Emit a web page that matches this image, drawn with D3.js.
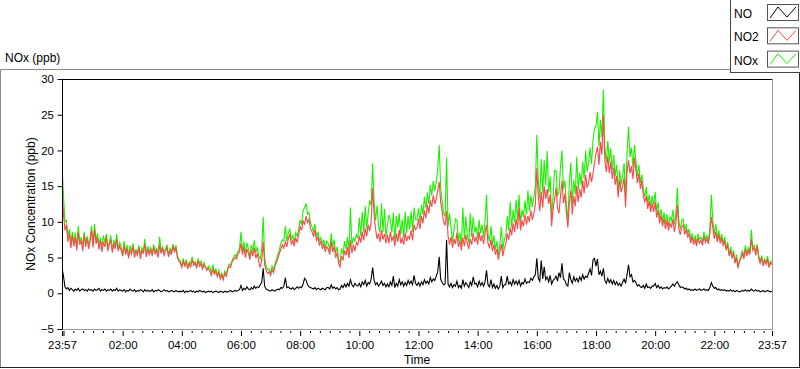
<!DOCTYPE html>
<html>
<head>
<meta charset="utf-8">
<script src="https://cdn.jsdelivr.net/npm/d3@7"></script>
<style>
  body { margin: 0; background: #fff; }
  svg { display: block; }
  text { font-family: "Liberation Sans", Arial, sans-serif; fill: #000; }
</style>
</head>
<body>
<svg width="800" height="369"></svg>
<script>
// readings every 3 minutes, starting 23:57 and ending 23:57 next day
const startTime = new Date(2020, 0, 1, 23, 57)
const endTime = new Date(2020, 0, 2, 23, 57)
const stepMinutes = 3

// one row per hour (20 readings)
const no2 = [
  14.5, 11.2, 8.8, 9.6, 7.2, 8.4, 6.3, 8.1, 6.6, 7.9, 6.0, 8.6, 6.8, 7.4, 5.9, 8.2, 6.5, 7.7, 6.2, 7.3,
  8.8, 6.4, 9.0, 6.9, 7.8, 6.1, 7.4, 5.8, 7.2, 6.5, 7.9, 5.9, 6.8, 7.5, 5.7, 7.0, 6.2, 7.6, 5.9, 6.6,
  6.0, 5.2, 6.8, 5.4, 6.3, 4.9, 6.1, 5.5, 6.6, 5.0, 5.9, 5.3, 6.4, 4.8, 6.0, 5.6, 6.9, 5.1, 6.2, 5.4,
  6.1, 5.2, 6.5, 5.5, 6.0, 5.0, 6.8, 5.6, 6.2, 5.3, 5.9, 6.4, 5.1, 6.0, 5.4, 6.6, 5.8, 6.3, 5.0, 4.5,
  4.2, 3.6, 4.5, 3.8, 4.4, 3.4, 4.1, 3.7, 4.7, 3.9, 4.3, 3.5, 4.6, 3.8, 4.2, 3.4, 4.0, 3.6, 3.2, 3.5,
  3.0, 2.5, 3.4, 2.7, 3.1, 2.3, 2.9, 2.0, 2.6, 1.9, 2.8, 2.4, 3.3, 3.8, 3.6, 4.4, 4.7, 5.0, 4.8, 5.5,
  5.8, 7.0, 5.4, 6.5, 5.0, 6.2, 5.6, 4.7, 6.0, 5.2, 6.4, 4.9, 5.6, 4.4, 3.6, 4.6, 7.2, 4.0, 3.2, 2.8,
  3.0, 2.5, 3.3, 2.9, 3.8, 4.3, 4.9, 5.6, 6.2, 6.8, 6.3, 7.2, 6.5, 7.6, 8.3, 6.9, 7.4, 6.6, 7.8, 7.1,
  8.2, 9.4, 8.8, 10.2, 9.6, 10.8, 9.9, 10.4, 9.0, 8.6, 8.0, 8.9, 7.4, 7.9, 6.8, 7.3, 6.2, 6.9, 5.8, 6.5,
  6.2, 5.4, 7.3, 5.8, 6.6, 5.0, 5.7, 4.2, 3.7, 5.2, 4.6, 6.0, 5.3, 6.5, 4.9, 7.4, 5.6, 6.8, 5.9, 7.1,
  6.8, 8.0, 7.1, 8.6, 7.4, 9.1, 8.0, 9.6, 8.7, 10.0, 14.7, 11.0, 9.0, 7.6, 8.4, 7.2, 8.8, 7.5, 8.3, 7.0,
  8.2, 7.0, 8.6, 7.4, 7.9, 6.6, 8.4, 7.2, 8.9, 7.0, 7.7, 6.8, 8.5, 7.3, 8.0, 7.6, 8.8, 7.4, 9.6, 8.9,
  9.2, 10.4, 9.0, 10.8, 9.8, 11.6, 10.5, 12.4, 11.2, 13.0, 12.1, 13.7, 12.5, 13.2, 14.4, 15.6, 12.8, 11.4, 10.0, 9.5,
  11.5, 8.0, 6.8, 7.9, 6.4, 7.6, 6.9, 8.5, 6.5, 7.4, 6.0, 7.8, 6.6, 8.2, 7.0, 6.2, 7.6, 6.8, 8.4, 7.2,
  7.9, 6.8, 8.6, 7.3, 8.1, 6.9, 8.4, 9.6, 7.0, 6.4, 7.5, 5.9, 6.8, 5.4, 6.2, 4.7, 5.8, 6.9, 5.2, 6.3,
  6.8, 8.4, 7.5, 9.2, 8.1, 9.8, 8.6, 10.4, 9.0, 12.0, 8.8, 10.2, 9.4, 11.0, 9.6, 10.8, 10.0, 11.6, 10.3, 11.2,
  12.4, 17.5, 13.6, 11.5, 14.2, 12.0, 15.0, 13.2, 14.6, 12.5, 13.8, 9.4, 11.8, 13.2, 14.8, 12.0, 11.2, 13.6, 15.8, 12.6,
  14.0, 11.2, 9.2, 12.6, 14.4, 11.0, 13.6, 12.2, 15.0, 12.8, 14.6, 13.4, 15.8, 14.0, 16.6, 14.8, 15.4, 17.0, 15.6, 16.8,
  18.2, 19.6, 20.5, 18.0, 21.2, 19.4, 25.0, 18.6, 17.0, 19.2, 16.8, 18.4, 16.0, 17.6, 15.2, 16.4, 13.4, 15.8, 14.2, 15.0,
  16.2, 12.0, 17.0, 18.6, 16.8, 17.8, 16.0, 19.0, 17.2, 15.4, 16.8, 14.6, 15.8, 13.6, 12.8, 13.6, 11.8, 12.9, 11.4, 12.6,
  11.4, 12.8, 10.6, 11.6, 9.8, 10.9, 9.4, 10.5, 9.0, 10.2, 8.8, 9.9, 9.2, 10.4, 8.6, 9.7, 12.4, 9.0, 8.2, 9.3,
  9.6, 8.2, 9.0, 7.8, 8.4, 7.0, 7.9, 6.8, 7.5, 6.6, 7.8, 7.0, 7.4, 6.7, 8.0, 7.1, 7.6, 6.9, 8.4, 10.7,
  9.2, 7.6, 8.6, 7.2, 8.2, 7.0, 7.8, 6.6, 7.4, 6.0, 6.8, 5.2, 6.0, 4.9, 5.6, 4.2, 5.0, 3.5, 4.4, 4.9,
  5.6, 4.8, 6.2, 5.2, 6.0, 5.4, 7.6, 6.0, 6.4, 5.3, 6.6, 4.9, 4.2, 5.0, 3.8, 4.6, 4.0, 4.8, 3.6, 4.3,
  4.0
]

const no = [
  3.6, 2.4, 0.9, 0.6, 0.8, 0.4, 0.7, 0.5, 0.3, 0.6, 0.4, 0.7, 0.3, 0.5, 0.6, 0.4, 0.5, 0.3, 0.6, 0.4,
  0.5, 0.3, 0.6, 0.4, 0.5, 0.7, 0.3, 0.5, 0.4, 0.6, 0.3, 0.5, 0.4, 0.6, 0.3, 0.5, 0.4, 0.7, 0.3, 0.5,
  0.4, 0.3, 0.5, 0.2, 0.4, 0.3, 0.6, 0.4, 0.3, 0.5, 0.2, 0.4, 0.3, 0.5, 0.4, 0.2, 0.5, 0.3, 0.4, 0.3,
  0.3, 0.5, 0.2, 0.4, 0.3, 0.5, 0.4, 0.2, 0.3, 0.5, 0.3, 0.4, 0.2, 0.3, 0.4, 0.3, 0.2, 0.4, 0.3, 0.2,
  0.3, 0.2, 0.4, 0.1, 0.3, 0.2, 0.3, 0.4, 0.2, 0.3, 0.1, 0.3, 0.2, 0.4, 0.3, 0.2, 0.3, 0.1, 0.2, 0.3,
  0.2, 0.3, 0.1, 0.2, 0.3, 0.2, 0.1, 0.3, 0.2, 0.1, 0.3, 0.2, 0.2, 0.3, 0.4, 0.2, 0.3, 0.4, 0.3, 0.4,
  0.5, 1.1, 0.4, 0.7, 0.5, 0.9, 0.6, 0.5, 0.8, 0.6, 1.0, 0.7, 0.9, 0.8, 1.2, 1.5, 3.5, 1.0, 0.6, 0.5,
  0.4, 0.3, 0.5, 0.4, 0.3, 0.5, 0.6, 0.5, 0.8, 0.7, 1.0, 2.2, 0.8, 0.9, 0.7, 0.6, 0.8, 0.5, 0.7, 0.9,
  0.7, 0.9, 0.8, 1.3, 2.1, 1.8, 1.2, 0.9, 0.8, 0.7, 0.6, 0.8, 0.5, 0.7, 0.6, 0.5, 0.7, 0.6, 0.5, 0.8,
  0.8, 0.6, 1.2, 0.7, 0.9, 0.6, 0.8, 0.5, 0.6, 1.1, 0.8, 1.3, 0.9, 1.4, 1.0, 1.9, 1.2, 0.9, 1.4, 1.1,
  1.0, 1.4, 0.9, 1.6, 1.2, 1.8, 1.0, 1.5, 1.3, 2.0, 3.6, 1.8, 1.2, 1.5, 1.0, 1.3, 1.7, 1.1, 1.4, 0.9,
  1.3, 0.9, 1.6, 1.1, 2.4, 0.8, 1.4, 1.0, 1.9, 1.2, 1.6, 1.0, 1.5, 1.1, 1.8, 1.3, 1.7, 1.2, 2.5, 1.4,
  1.1, 1.5, 1.0, 1.6, 1.2, 1.9, 1.4, 1.7, 1.3, 2.2, 1.6, 2.0, 1.8, 2.4, 3.0, 5.1, 2.0, 1.5, 1.2, 1.3,
  7.5, 1.3, 0.9, 1.4, 0.8, 1.2, 1.0, 1.7, 0.8, 1.1, 0.7, 1.9, 1.0, 1.5, 1.2, 0.8, 1.6, 1.1, 2.3, 1.3,
  1.4, 0.9, 1.7, 1.1, 1.5, 1.0, 1.6, 3.2, 1.2, 0.9, 1.9, 0.8, 1.3, 0.7, 1.1, 0.6, 1.0, 2.4, 0.8, 1.2,
  1.2, 2.4, 1.3, 1.6, 1.1, 1.9, 1.3, 1.7, 1.2, 1.8, 1.0, 1.5, 1.3, 2.0, 1.4, 1.6, 1.5, 2.1, 1.8, 2.3,
  2.6, 4.9, 2.1, 1.7, 4.6, 2.0, 3.7, 1.9, 2.3, 1.6, 2.5, 1.3, 1.8, 2.0, 2.4, 1.7, 2.9, 2.2, 4.2, 2.0,
  1.8, 1.2, 1.0, 2.9, 1.9, 1.4, 2.3, 1.7, 2.1, 1.6, 2.3, 1.8, 2.6, 2.0, 2.4, 2.2, 2.8, 3.4, 2.5, 4.7,
  4.9, 3.8, 4.8, 2.6, 3.1, 2.4, 3.5, 1.8, 1.4, 2.1, 1.5, 1.9, 1.3, 1.8, 1.2, 1.6, 1.1, 1.4, 1.0, 1.5,
  2.0, 1.4, 2.6, 4.0, 2.3, 2.6, 1.6, 1.8, 1.5, 1.0, 1.2, 0.9, 0.8, 1.1, 0.7, 1.3, 0.8, 0.9, 0.7, 1.0,
  1.0, 1.4, 0.8, 1.1, 0.7, 0.9, 0.6, 0.8, 0.7, 0.9, 0.6, 0.8, 1.0, 1.3, 1.0, 1.4, 1.6, 1.2, 0.8, 0.9,
  0.8, 0.6, 0.7, 0.5, 0.6, 0.4, 0.5, 0.4, 0.6, 0.4, 0.5, 0.6, 0.4, 0.5, 0.6, 0.4, 0.5, 0.4, 0.8, 1.5,
  1.0, 0.7, 0.8, 0.5, 0.6, 0.4, 0.5, 0.4, 0.5, 0.3, 0.4, 0.3, 0.5, 0.3, 0.4, 0.2, 0.4, 0.3, 0.2, 0.3,
  0.4, 0.3, 0.5, 0.3, 0.4, 0.3, 0.6, 0.4, 0.3, 0.5, 0.3, 0.4, 0.2, 0.3, 0.4, 0.2, 0.3, 0.4, 0.3, 0.2,
  0.3
]

const nox = [
  18.0, 13.6, 10.0, 10.2, 8.0, 9.0, 7.0, 8.6, 6.9, 8.5, 6.4, 9.4, 7.1, 7.9, 6.5, 8.6, 7.0, 8.0, 6.8, 7.7,
  9.4, 6.8, 9.7, 7.4, 8.4, 6.8, 7.8, 6.3, 8.1, 7.1, 8.3, 6.4, 7.2, 8.1, 6.0, 7.5, 6.6, 8.3, 6.2, 7.1,
  6.5, 5.5, 7.3, 5.6, 6.8, 5.2, 6.7, 5.8, 7.0, 5.5, 6.1, 5.7, 6.7, 5.3, 6.4, 5.8, 7.6, 5.4, 6.6, 5.7,
  6.4, 5.7, 6.8, 5.9, 6.3, 5.5, 7.9, 5.8, 6.5, 5.8, 6.2, 6.8, 5.3, 6.3, 5.8, 6.9, 6.0, 6.7, 5.3, 4.7,
  4.5, 3.8, 4.9, 3.9, 4.7, 3.6, 4.4, 4.1, 5.1, 4.2, 4.4, 3.8, 4.8, 4.2, 4.5, 3.6, 4.3, 3.7, 3.4, 3.8,
  3.6, 2.8, 4.0, 2.9, 3.4, 2.5, 3.2, 2.3, 2.8, 2.0, 3.1, 2.6, 3.5, 4.1, 4.0, 4.6, 5.0, 5.4, 5.1, 5.9,
  6.3, 8.6, 5.8, 7.2, 5.5, 7.1, 6.2, 5.2, 6.8, 5.8, 7.4, 5.6, 6.5, 5.2, 4.8, 6.1, 10.7, 5.0, 3.8, 3.3,
  3.4, 2.8, 3.8, 3.3, 4.1, 4.8, 5.5, 6.1, 7.0, 7.5, 7.3, 9.4, 7.3, 8.5, 9.0, 7.5, 8.2, 7.1, 8.5, 8.0,
  8.9, 10.3, 9.6, 11.5, 12.0, 12.6, 11.1, 11.3, 9.8, 9.3, 8.6, 9.7, 7.9, 8.6, 7.4, 7.8, 6.9, 7.5, 6.3, 7.3,
  7.0, 6.0, 8.4, 6.5, 7.5, 5.6, 6.5, 4.7, 4.3, 6.3, 5.4, 7.3, 6.2, 7.9, 5.9, 12.0, 6.8, 7.7, 7.3, 8.2,
  7.8, 10.6, 8.0, 11.4, 8.6, 12.2, 9.0, 11.1, 13.0, 12.3, 18.2, 12.8, 10.2, 12.3, 9.4, 8.5, 12.6, 8.6, 11.8, 7.9,
  9.5, 11.0, 10.2, 8.5, 11.3, 7.4, 10.8, 9.2, 11.2, 8.2, 10.3, 7.8, 11.4, 8.4, 10.8, 8.9, 11.5, 8.6, 12.0, 10.3,
  10.3, 11.9, 10.0, 12.4, 11.0, 13.5, 11.9, 14.1, 12.5, 15.2, 13.7, 15.7, 14.3, 15.6, 17.4, 20.8, 14.8, 12.9, 11.2, 10.8,
  19.0, 9.3, 11.2, 9.3, 7.2, 8.8, 10.4, 10.2, 7.3, 8.5, 6.7, 12.0, 7.6, 10.7, 8.2, 7.0, 11.2, 7.9, 10.7, 8.5,
  9.3, 7.7, 10.3, 8.4, 9.6, 7.9, 10.0, 13.8, 8.2, 7.3, 9.4, 6.7, 8.1, 6.1, 7.3, 5.3, 6.8, 9.3, 6.0, 7.5,
  8.0, 10.8, 8.8, 12.8, 9.2, 11.7, 9.9, 13.1, 10.2, 13.8, 9.8, 11.7, 10.7, 13.0, 11.0, 14.4, 11.5, 13.7, 12.1, 13.5,
  15.0, 22.2, 15.7, 13.2, 18.8, 14.0, 18.7, 15.1, 19.9, 14.1, 16.3, 10.7, 13.6, 17.2, 17.2, 13.7, 14.1, 17.8, 20.0, 14.6,
  15.8, 12.4, 10.2, 15.5, 18.3, 12.4, 15.9, 13.9, 19.1, 14.4, 16.9, 15.2, 18.4, 16.0, 20.0, 17.0, 18.2, 20.4, 18.1, 21.5,
  23.1, 23.4, 25.4, 20.6, 24.3, 21.8, 28.5, 20.4, 18.4, 21.3, 18.3, 20.3, 17.3, 19.4, 16.4, 18.0, 14.5, 17.2, 15.2, 16.5,
  18.2, 13.4, 19.6, 23.3, 19.1, 20.4, 17.6, 20.8, 18.7, 16.4, 18.0, 15.5, 16.6, 14.7, 13.5, 14.9, 12.6, 13.8, 12.1, 13.6,
  12.4, 14.2, 11.4, 12.7, 10.5, 11.8, 10.0, 11.3, 9.7, 11.1, 9.4, 10.7, 10.2, 11.7, 9.6, 11.1, 14.8, 10.2, 9.0, 10.2,
  10.4, 8.8, 9.7, 8.3, 9.0, 7.4, 8.4, 7.2, 8.1, 7.0, 8.3, 7.6, 7.8, 7.2, 8.6, 7.5, 8.1, 7.3, 9.2, 13.8,
  10.2, 8.3, 9.7, 7.7, 8.8, 7.4, 8.3, 7.0, 7.9, 6.3, 7.2, 5.5, 6.5, 5.2, 6.0, 4.4, 5.4, 3.8, 4.6, 5.2,
  6.0, 5.1, 6.7, 5.5, 6.4, 5.7, 8.9, 6.4, 6.7, 5.8, 6.9, 5.3, 4.4, 5.3, 4.2, 4.8, 4.3, 5.2, 3.9, 4.5,
  4.3
]

const yTicks = [-5, 0, 5, 10, 15, 20, 25, 30]
const xTickLabels = ["23:57", "", "02:00", "04:00", "06:00", "08:00", "10:00",
  "12:00", "14:00", "16:00", "18:00", "20:00", "22:00", "23:57"]
const seriesNames = ["NO", "NO2", "NOx"]
const seriesColors = ["#000000", "#ff4646", "#1cf000"]

const svg = d3.select("svg")
const plotLeft = 62, plotRight = 772, plotTop = 79, plotBottom = 329

const x = d3.scaleTime().domain([startTime, endTime]).range([plotLeft, plotRight])
const y = d3.scaleLinear().domain([-5, 30]).range([plotBottom, plotTop])

// outer frame
svg.append("line").attr("x1", 0.5).attr("y1", 69.5).attr("x2", 799).attr("y2", 69.5).attr("stroke", "#8a8a8a")
svg.append("line").attr("x1", 0.5).attr("y1", 69.5).attr("x2", 0.5).attr("y2", 368).attr("stroke", "#8a8a8a")
svg.append("line").attr("x1", 0).attr("y1", 367.5).attr("x2", 800).attr("y2", 367.5).attr("stroke", "#222")
svg.append("line").attr("x1", 799.5).attr("y1", 69).attr("x2", 799.5).attr("y2", 368).attr("stroke", "#222")

svg.append("text")
    .attr("x", 5)
    .attr("y", 62)
    .style("font-size", "12px")
    .text("NOx (ppb)")

// plot area
svg.append("rect")
    .attr("x", plotLeft).attr("y", plotTop)
    .attr("width", plotRight - plotLeft).attr("height", plotBottom - plotTop)
    .attr("fill", "#fff")

svg.append("clipPath").attr("id", "clip")
    .append("rect")
    .attr("x", plotLeft + 1).attr("y", plotTop + 1)
    .attr("width", plotRight - plotLeft - 1).attr("height", plotBottom - plotTop - 1)

const timeAt = i => d3.timeMinute.offset(startTime, i * stepMinutes)
const line = d3.line()
    .x((d, i) => x(timeAt(i)))
    .y(d => y(d))

const plot = svg.append("g").attr("clip-path", "url(#clip)")
const drawOrder = [[nox, 2], [no2, 1], [no, 0]]
for (const [values, k] of drawOrder) {
    plot.append("path")
        .datum(values)
        .attr("d", line)
        .attr("fill", "none")
        .attr("stroke", seriesColors[k])
        .attr("stroke-width", 1.1)
}

// plot border: dark top/left, grey bottom/right
svg.append("line").attr("x1", plotLeft + 0.5).attr("y1", plotTop + 0.5).attr("x2", plotRight).attr("y2", plotTop + 0.5).attr("stroke", "#000")
svg.append("line").attr("x1", plotLeft + 0.5).attr("y1", plotTop).attr("x2", plotLeft + 0.5).attr("y2", plotBottom).attr("stroke", "#000")
svg.append("line").attr("x1", plotLeft).attr("y1", plotBottom + 0.5).attr("x2", plotRight + 1).attr("y2", plotBottom + 0.5).attr("stroke", "#9a9a9a")
svg.append("line").attr("x1", plotRight + 0.5).attr("y1", plotTop).attr("x2", plotRight + 0.5).attr("y2", plotBottom + 1).attr("stroke", "#9a9a9a")

// y axis
const yAxis = svg.append("g")
    .attr("transform", `translate(${plotLeft},0)`)
    .call(d3.axisLeft(y).tickValues(yTicks).tickSize(5).tickPadding(3))
yAxis.select(".domain").remove()
yAxis.selectAll("line").attr("stroke", "#000").attr("transform", "translate(0.5,0)")
yAxis.selectAll("text").style("font-size", "11.5px").style("font-family", "'Liberation Sans', Arial, sans-serif")

// x axis: major ticks every 2 h plus the two end times, minor every 20 min
const majorTimes = [startTime, d3.timeHour.ceil(startTime)]
    .concat(d3.timeHour.every(2).range(d3.timeHour.offset(d3.timeHour.ceil(startTime), 2), endTime))
    .concat([endTime])
const minorTimes = d3.timeMinute.every(20).range(d3.timeHour.ceil(startTime), endTime)
    .filter(t => !(t.getMinutes() === 0 && t.getHours() % 2 === 0))

const xMinor = svg.append("g")
    .attr("transform", `translate(0,${plotBottom + 2})`)
    .call(d3.axisBottom(x).tickValues(minorTimes).tickSize(2).tickFormat(""))
xMinor.select(".domain").remove()
xMinor.selectAll("line").attr("stroke", "#000")

const xAxis = svg.append("g")
    .attr("transform", `translate(0,${plotBottom + 2})`)
    .call(d3.axisBottom(x).tickValues(majorTimes).tickSize(5).tickPadding(5)
        .tickFormat((d, i) => xTickLabels[i]))
xAxis.select(".domain").remove()
xAxis.selectAll("line").attr("stroke", "#000")
xAxis.selectAll("text").style("font-size", "11.5px").style("font-family", "'Liberation Sans', Arial, sans-serif")

svg.append("text")
    .attr("x", (plotLeft + plotRight) / 2)
    .attr("y", 364)
    .attr("text-anchor", "middle")
    .style("font-size", "12px")
    .text("Time")

svg.append("text")
    .attr("transform", `translate(35,${(plotTop + plotBottom) / 2}) rotate(-90)`)
    .attr("text-anchor", "middle")
    .style("font-size", "12px")
    .text("NOx Concentration (ppb)")

// legend
const legend = svg.append("g")
legend.append("rect")
    .attr("x", 730.5).attr("y", -1)
    .attr("width", 72).attr("height", 73.5)
    .attr("fill", "#fff")
    .attr("stroke", "#444")
const zig = d3.line()
const legendRows = legend.selectAll("g.row")
    .data(seriesNames)
    .join("g")
    .attr("class", "row")
    .attr("transform", (d, i) => `translate(0,${4 + i * 23.3})`)
legendRows.append("text")
    .attr("x", 734)
    .attr("y", 14)
    .style("font-size", "12px")
    .text(d => d)
legendRows.append("rect")
    .attr("x", 767.5).attr("y", 0.5)
    .attr("width", 31).attr("height", 16)
    .attr("fill", "#fff")
    .attr("stroke", "#555")
legendRows.append("path")
    .attr("d", zig([[770, 14], [778, 3], [787, 13], [796, 3]]))
    .attr("fill", "none")
    .attr("stroke", (d, i) => seriesColors[i])
</script>
</body>
</html>
